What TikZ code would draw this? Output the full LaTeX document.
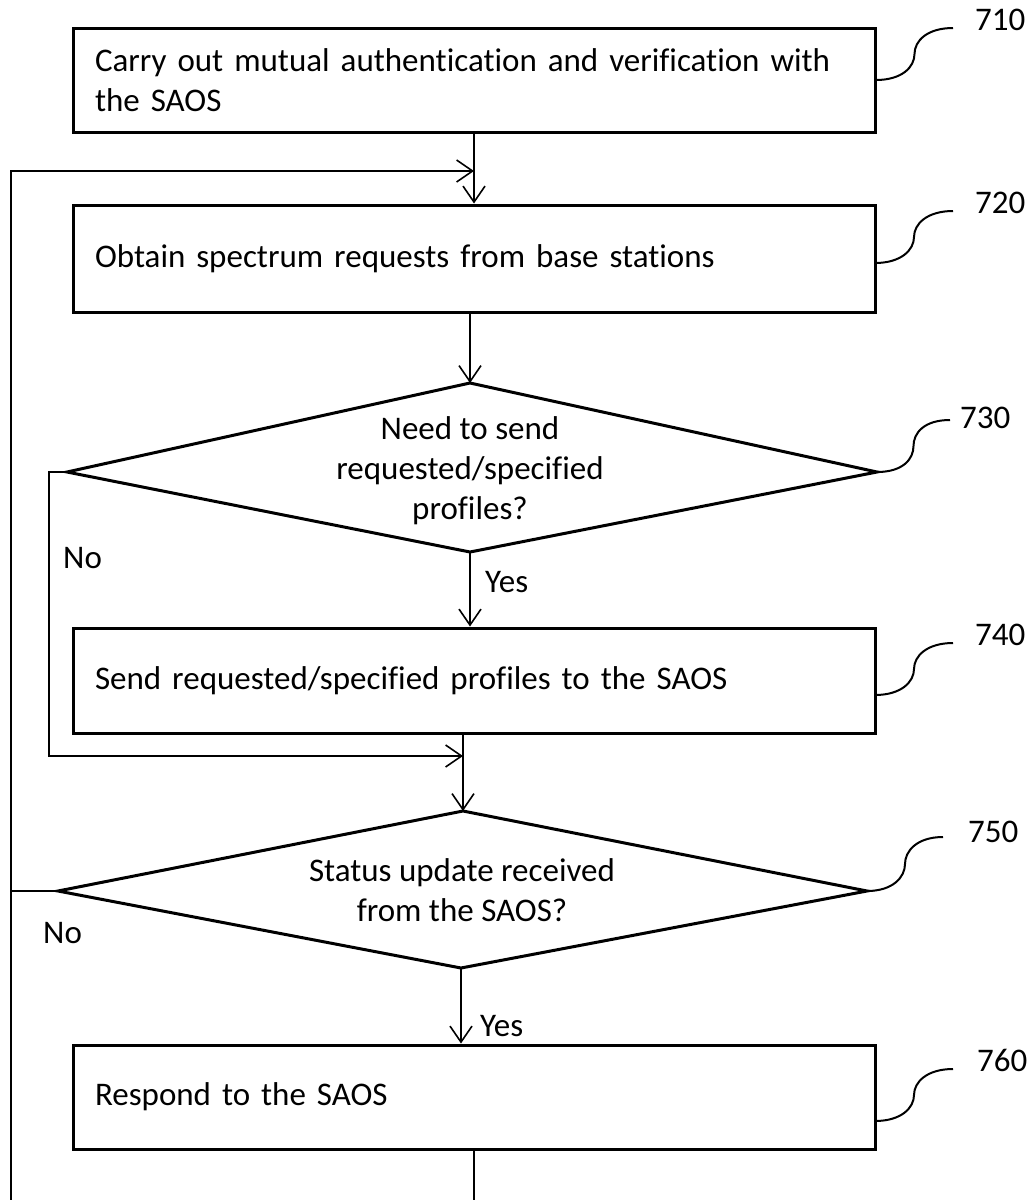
\documentclass[tikz,border=0pt]{standalone}
\usepackage{fontspec}
\setmainfont{Carlito}[Ligatures=NoCommon]
\usetikzlibrary{arrows.meta,calc}
\newcommand\leadcurve[2]{\draw[lbl] (#1) .. controls +(26,0) and +(0,13) .. ($(#1)!0.5!(#2)$) .. controls +(0,-13) and +(-26,0) .. (#2);}
\begin{document}
\begin{tikzpicture}[x=1pt,y=-1pt,
  every node/.style={font=\fontsize{33}{40}\selectfont, inner sep=0pt},
  box/.style={draw, line width=3pt, minimum width=802pt, text width=758pt, align=left, inner xsep=22pt, inner ysep=0pt},
  dia/.style={draw, line width=3pt, line join=miter},
  conn/.style={line width=1.6pt},
  arr/.style={conn, -{Straight Barb[length=16pt,width=22pt]}},
  lbl/.style={line width=2pt},
  num/.style={anchor=base west},
  ]
\useasboundingbox (0,0) rectangle (1032,1200);

% boxes
\node[box, minimum height=104pt] (b710) at (474,80) {Carry out mutual authentication and verification with\\the SAOS};
\node[box, minimum height=107pt] (b720) at (474,258.5) {Obtain spectrum requests from base stations};
\node[box, minimum height=105pt] (b740) at (474,680.5) {Send requested/specified profiles to the SAOS};
\node[box, minimum height=104pt] (b760) at (474,1097) {Respond to the SAOS};

% diamonds
\coordinate (d730t) at (470,383);
\coordinate (d730r) at (877,472);
\coordinate (d730b) at (470,552);
\coordinate (d730l) at (67,472);
\draw[dia] (d730t) -- (d730r) -- (d730b) -- (d730l) -- cycle;
\node[align=center] (t730) at (470,471) {Need to send\\requested/specified\\profiles?};

\coordinate (d750t) at (463,811);
\coordinate (d750r) at (867,891);
\coordinate (d750b) at (461,968);
\coordinate (d750l) at (58,891);
\draw[dia] (d750t) -- (d750r) -- (d750b) -- (d750l) -- cycle;
\node[align=center] (t750) at (462,890) {Status update received\\from the SAOS?};

% connectors
\coordinate (loopb) at (11,1200);
\coordinate (loopt) at (11,171);
\coordinate (loopm) at (11,891);
\coordinate (j720) at (474,171);
\coordinate (no1a) at (49,472);
\coordinate (no1b) at (49,756);
\coordinate (j740) at (463,756);

\draw[arr] (b710.south) -- (b720.north);
\draw[arr] (loopb) -- (loopt) -- (j720);
\draw[arr] (b720.south -| d730t) -- (d730t);
\draw[arr] (d730b) -- (d730b |- b740.north);
\draw[arr] (d730l) -- (no1a) -- (no1b) -- (j740);
\draw[arr] (b740.south -| d750t) -- (d750t);
\draw[conn] (d750l) -- (loopm);
\draw[line width=2.4pt] (11,870) -- (loopm);
\draw[arr] (d750b) -- (d750b |- b760.north);
\draw[conn] (b760.south) -- (b760.south |- loopb);

% branch labels
\node[num] (no1) at (63,568) {No};
\node[num] (yes1) at (485,592) {Yes};
\node[num] (no2) at (43,943) {No};
\node[num] (yes2) at (480,1036) {Yes};

% reference numbers
\node[num] (n710) at (975,30) {710};
\node[num] (n720) at (975,213) {720};
\node[num] (n730) at (960,428) {730};
\node[num] (n740) at (975,645) {740};
\node[num] (n750) at (968,842) {750};
\node[num] (n760) at (977,1071) {760};

\coordinate (s710) at (876,80);   \coordinate (e710) at (953,28);
\coordinate (s720) at (875,263);  \coordinate (e720) at (953,211);
\coordinate (s730) at (877,472);  \coordinate (e730) at (950,420);
\coordinate (s740) at (875,695);  \coordinate (e740) at (953,643);
\coordinate (s750) at (867,891);  \coordinate (e750) at (943,837);
\coordinate (s760) at (875,1121); \coordinate (e760) at (953,1069);
\leadcurve{s710}{e710}
\leadcurve{s720}{e720}
\leadcurve{s730}{e730}
\leadcurve{s740}{e740}
\leadcurve{s750}{e750}
\leadcurve{s760}{e760}
\end{tikzpicture}
\end{document}
